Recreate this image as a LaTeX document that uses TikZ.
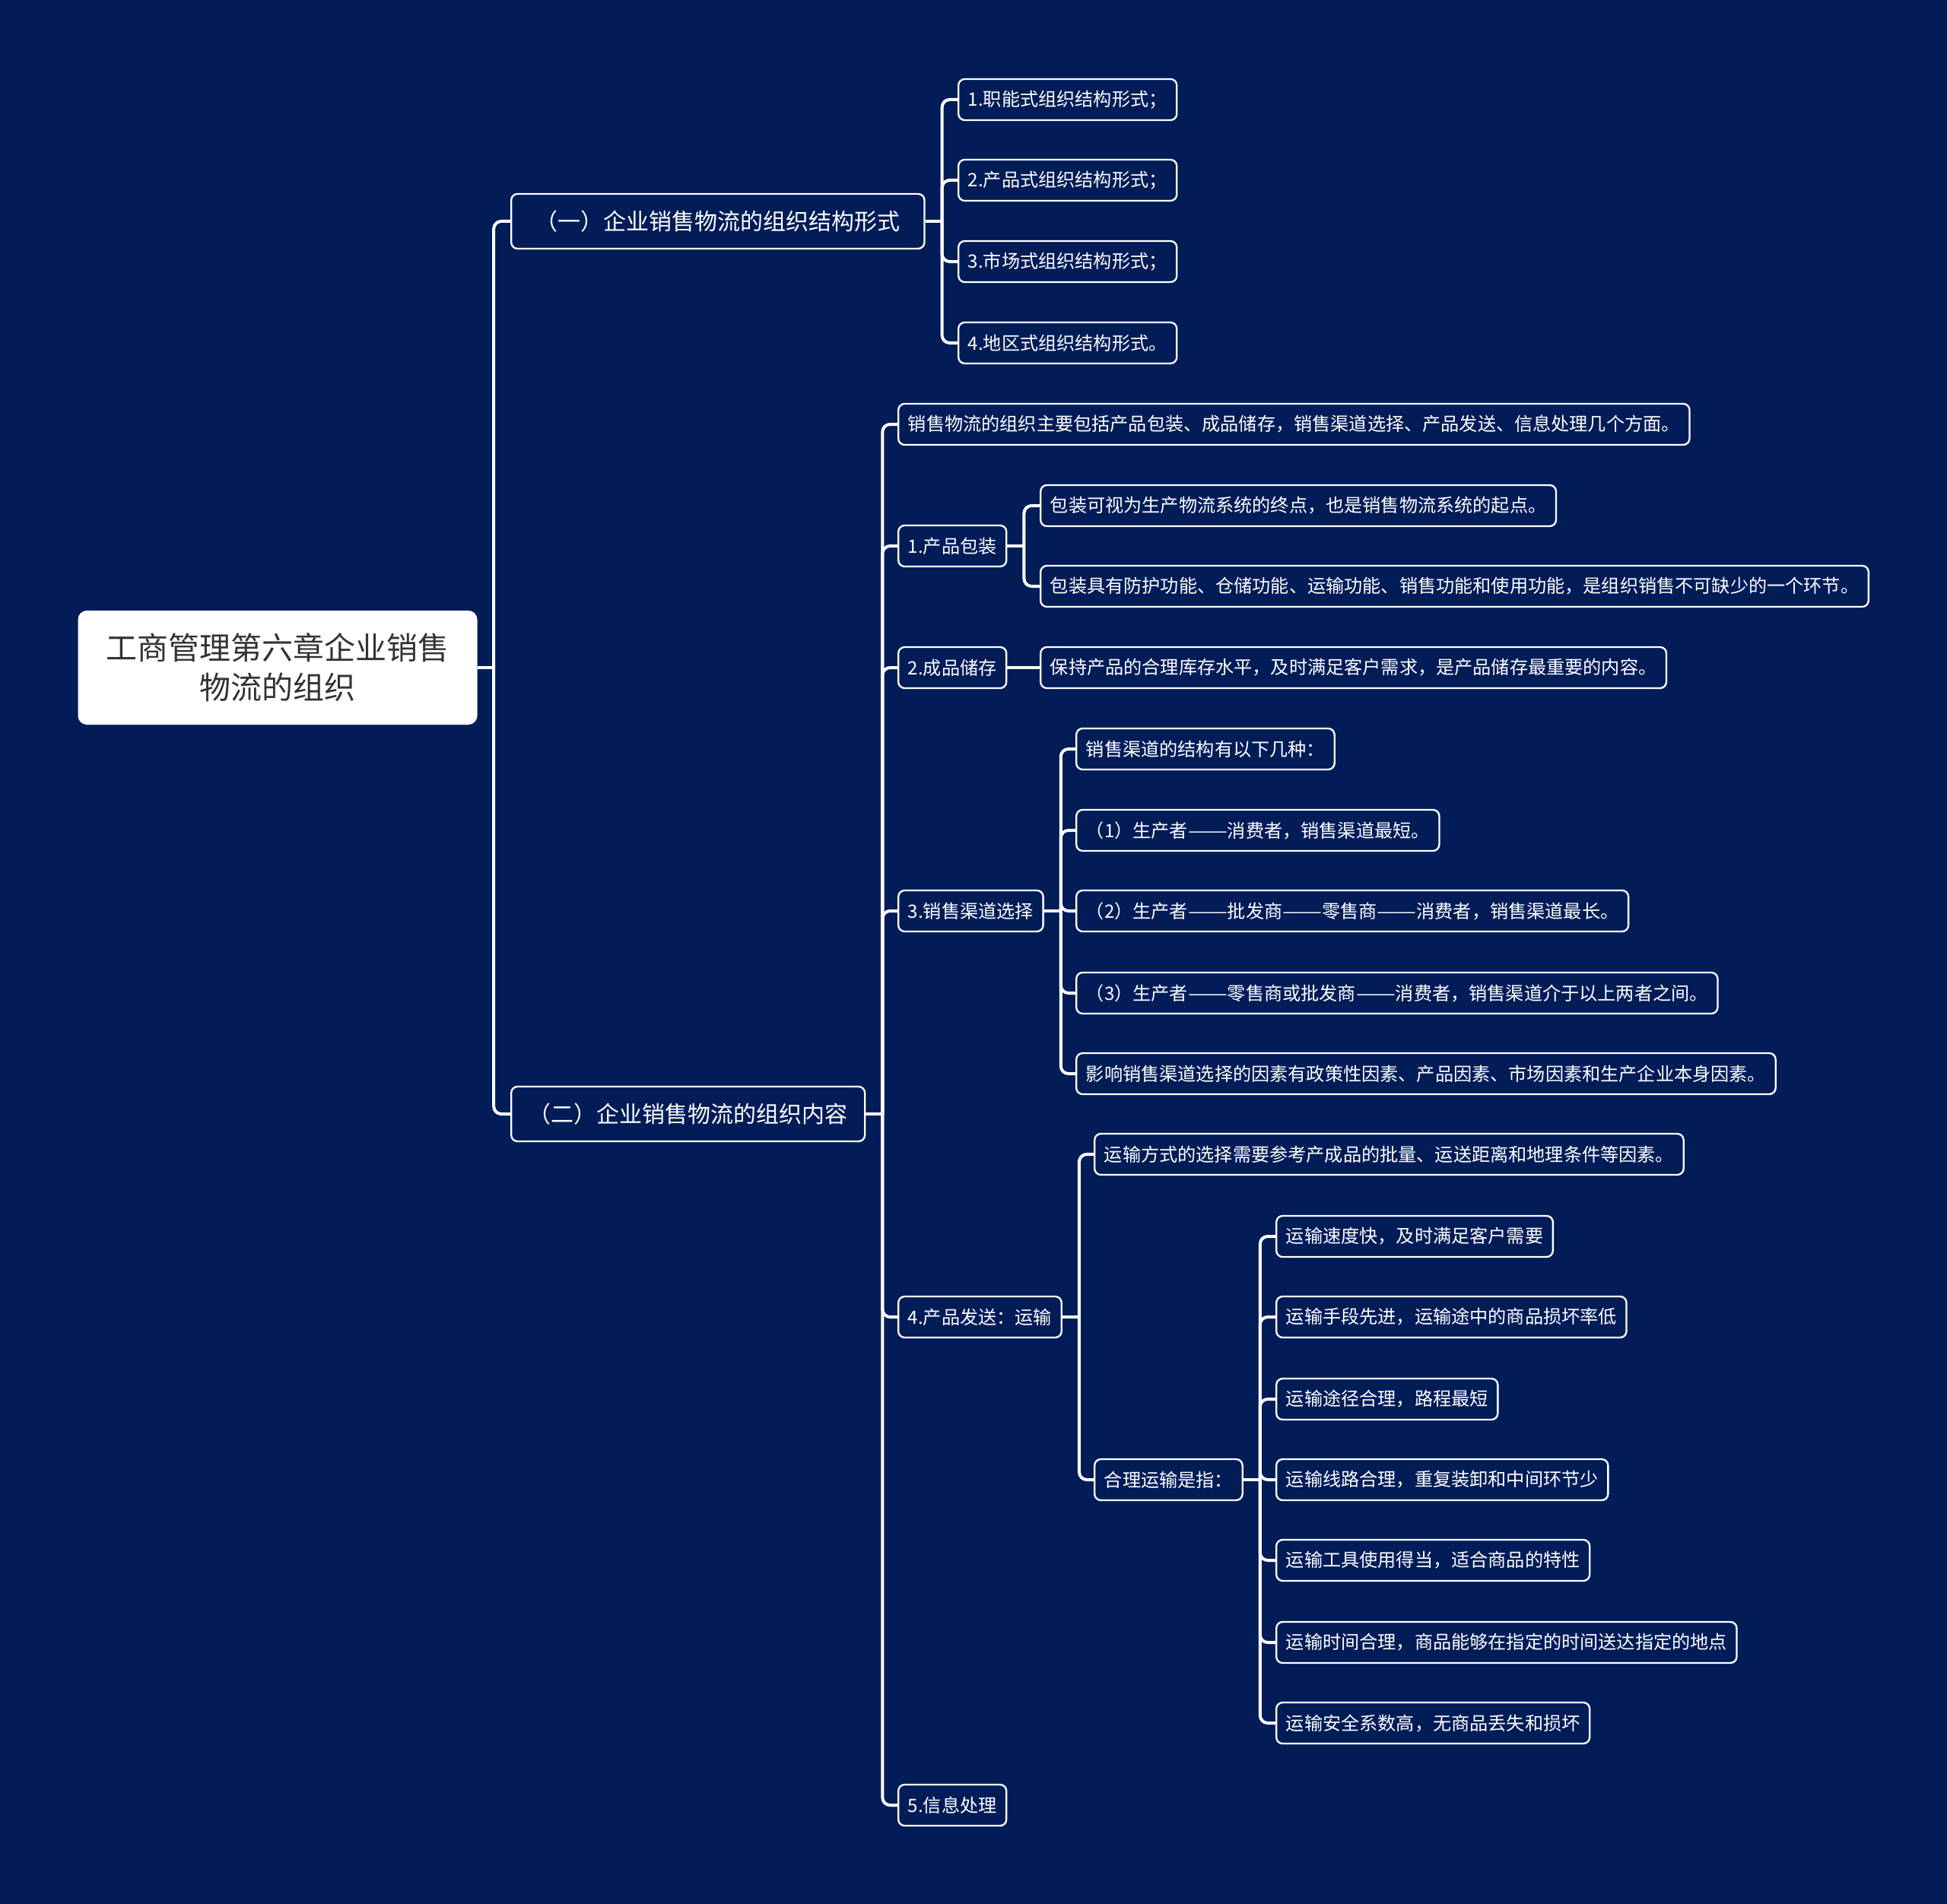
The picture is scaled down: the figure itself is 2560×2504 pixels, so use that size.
\documentclass[tikz,border=0pt]{standalone}
\usepackage{fontspec}
\setmainfont{Noto Sans CJK SC}
\usetikzlibrary{positioning,calc}
\definecolor{bgnavy}{RGB}{2,28,88}
\definecolor{rootgray}{RGB}{51,51,51}
\newcommand\wdash{\scalebox{1.28}[1]{——}}

\begin{document}
\begin{tikzpicture}[x=0.3pt,y=-0.3pt,every node/.style={font=\fontsize{7.25pt}{9pt}\selectfont,text=white},
  leaf/.style={draw=white,line width=0.7pt,rounded corners=2.5pt,fill=bgnavy,anchor=west,inner xsep=3.8pt,inner ysep=0pt,minimum height=16.2pt},
  sect/.style={leaf,font=\fontsize{9pt}{11pt}\selectfont,inner xsep=6.75pt,minimum height=21.6pt},
  link/.style={draw=white,line width=1.2pt,rounded corners=3pt}]
\fill[bgnavy](0,0) rectangle (2560,2504);
\node[fill=white,text=rootgray,rounded corners=3.5pt,minimum width=157.5pt,minimum height=45pt,align=center,font=\fontsize{12.3pt}{15.6pt}\selectfont](root) at (365,878){工商管理第六章企业销售\\物流的组织};
\node[sect,minimum width=163pt](secA) at (671,291){（一）企业销售物流的组织结构形式};
\node[sect](secB) at (671,1465){（二）企业销售物流的组织内容};
% forms
\node[leaf](a1) at (1259,131){1.职能式组织结构形式；};
\node[leaf](a2) at (1259,237){2.产品式组织结构形式；};
\node[leaf](a3) at (1259,344){3.市场式组织结构形式；};
\node[leaf](a4) at (1259,451){4.地区式组织结构形式。};
% contents
\node[leaf](b0) at (1180,558){销售物流的组织主要包括产品包装、成品储存，销售渠道选择、产品发送、信息处理几个方面。};
\node[leaf](b1) at (1180,718){1.产品包装};
\node[leaf](b1a) at (1367,665){包装可视为生产物流系统的终点，也是销售物流系统的起点。};
\node[leaf](b1b) at (1367,771){包装具有防护功能、仓储功能、运输功能、销售功能和使用功能，是组织销售不可缺少的一个环节。};
\node[leaf](b2) at (1180,878){2.成品储存};
\node[leaf](b2a) at (1367,878){保持产品的合理库存水平，及时满足客户需求，是产品储存最重要的内容。};
\node[leaf](b3) at (1180,1198){3.销售渠道选择};
\node[leaf](c1) at (1414,985){销售渠道的结构有以下几种：};
\node[leaf](c2) at (1414,1092){（1）生产者\wdash 消费者，销售渠道最短。};
\node[leaf](c3) at (1414,1198){（2）生产者\wdash 批发商\wdash 零售商\wdash 消费者，销售渠道最长。};
\node[leaf](c4) at (1414,1306){（3）生产者\wdash 零售商或批发商\wdash 消费者，销售渠道介于以上两者之间。};
\node[leaf](c5) at (1414,1412){影响销售渠道选择的因素有政策性因素、产品因素、市场因素和生产企业本身因素。};
\node[leaf](b4) at (1180,1732){4.产品发送：运输};
\node[leaf](d1) at (1438,1518){运输方式的选择需要参考产成品的批量、运送距离和地理条件等因素。};
\node[leaf](d2) at (1438,1946){合理运输是指：};
\node[leaf](e1) at (1677,1626){运输速度快，及时满足客户需要};
\node[leaf](e2) at (1677,1732){运输手段先进，运输途中的商品损坏率低};
\node[leaf](e3) at (1677,1840){运输途径合理，路程最短};
\node[leaf](e4) at (1677,1946){运输线路合理，重复装卸和中间环节少};
\node[leaf](e5) at (1677,2052){运输工具使用得当，适合商品的特性};
\node[leaf](e6) at (1677,2160){运输时间合理，商品能够在指定的时间送达指定的地点};
\node[leaf](e7) at (1677,2266){运输安全系数高，无商品丢失和损坏};
\node[leaf](b5) at (1180,2374){5.信息处理};
% connectors
\draw[link](root.east)--++(21,0) coordinate(t0);
\foreach \n in {secA,secB} \draw[link](t0)|-(\n.west);
\draw[link](secA.east)--++(22,0) coordinate(tA);
\foreach \n in {a1,a2,a3,a4} \draw[link](tA)|-(\n.west);
\draw[link](secB.east)--++(22,0) coordinate(tB);
\foreach \n in {b0,b1,b2,b3,b4,b5} \draw[link](tB)|-(\n.west);
\draw[link](b1.east)--++(22,0) coordinate(t1);
\foreach \n in {b1a,b1b} \draw[link](t1)|-(\n.west);
\draw[link](b2.east)--(b2a.west);
\draw[link](b3.east)--++(22,0) coordinate(t3);
\foreach \n in {c1,c2,c3,c4,c5} \draw[link](t3)|-(\n.west);
\draw[link](b4.east)--++(22,0) coordinate(t4);
\foreach \n in {d1,d2} \draw[link](t4)|-(\n.west);
\draw[link](d2.east)--++(22,0) coordinate(t5);
\foreach \n in {e1,e2,e3,e4,e5,e6,e7} \draw[link](t5)|-(\n.west);
\end{tikzpicture}
\end{document}
